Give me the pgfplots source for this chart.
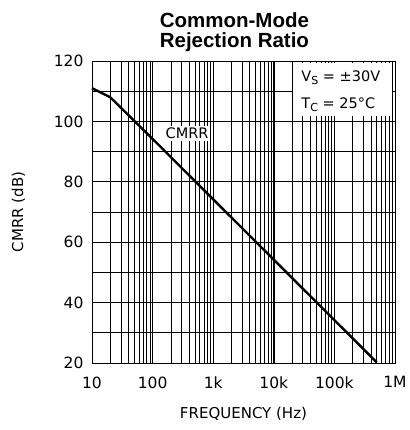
\documentclass[border=0pt]{standalone}
\usepackage{pgfplots}
\pgfplotsset{compat=1.18}
\usepackage{fontspec}
\setmainfont{Liberation Sans}
\newfontfamily\tickfont{DejaVu Sans}
\begin{document}
\begin{tikzpicture}
\begin{axis}[
  at={(0,0)}, anchor=south west,
  scale only axis, width=303pt, height=302pt,
  xmode=log, xmin=10, xmax=1000000,
  ymin=20, ymax=120,
  xtick={10,100,1000,10000,100000,1000000},
  xticklabels={10,100,1k,10k,100k,1M},
  ytick={20,40,60,80,100,120},
  minor ytick={30,50,70,90,110},
  grid=both,
  major grid style={black, line width=0.8pt},
  minor grid style={black, line width=0.6pt},
  axis line style={black, line width=0.9pt},
  major tick length=0pt, minor tick length=0pt,
  tick label style={font=\tickfont\fontsize{15.5}{17}\selectfont},
  xticklabel style={yshift=-10pt},
  yticklabel style={xshift=-5pt},
  /pgf/number format/assume math mode=true,
  log ticks with fixed point,
  xlabel={FREQUENCY (Hz)},
  ylabel={CMRR (dB)},
  label style={font=\tickfont\fontsize{15}{17}\selectfont},
  xlabel style={yshift=-12pt},
  ylabel style={yshift=22pt},
  title style={font=\bfseries\fontsize{20.5}{20}\selectfont, align=center, at={(0.47,1)}, yshift=0pt},
  title={Common-Mode\\Rejection Ratio},
  clip=false,
]
\addplot[black, line width=2.4pt] coordinates {
  (10,111) (20,108) (100,94.2) (1000,74.2) (10000,54.2) (100000,34.2) (500000,20.2)
};
\node[fill=white, inner sep=2pt, font=\tickfont\fontsize{14.5}{16}\selectfont] at (axis cs:370,96) {CMRR};
\fill[white] (axis cs:21000,119.4) rectangle (axis cs:880000,101.8);
\node[font=\tickfont\fontsize{14.5}{16}\selectfont, anchor=west] at (axis cs:25000,114.5) {V\raisebox{-3pt}{\fontsize{11}{11}\selectfont S}~=~±30V};
\node[font=\tickfont\fontsize{14.5}{16}\selectfont, anchor=west] at (axis cs:25000,105.5) {T\raisebox{-3pt}{\fontsize{11}{11}\selectfont C}~=~25°C};
\draw[black, line width=0.9pt] (rel axis cs:1,0) -- (rel axis cs:1,1) -- (rel axis cs:0,1);
\end{axis}
\path[use as bounding box] (-92pt,-67pt) rectangle (314pt,363pt);
\end{tikzpicture}
\end{document}
